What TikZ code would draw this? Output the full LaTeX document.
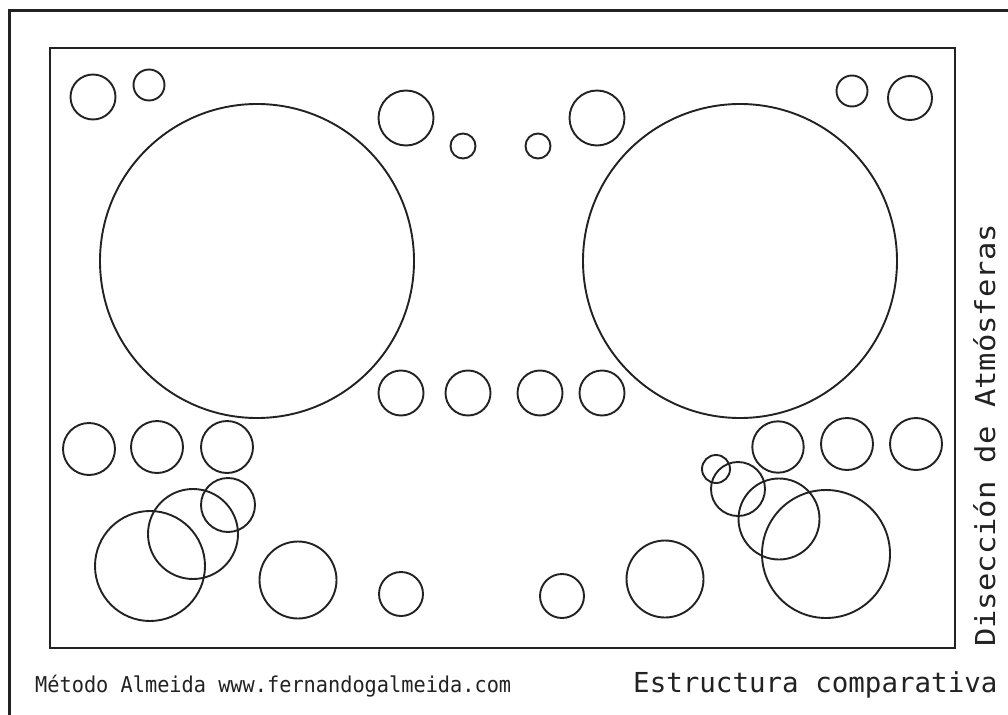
\documentclass[tikz,border=0pt]{standalone}
\usepackage{fontspec}
\usepackage{graphicx}
\newfontfamily\monofont{DejaVu Sans Mono}
\definecolor{ink}{HTML}{222222}
\begin{document}
\begin{tikzpicture}[x=1pt,y=-1pt,
  ring/.style={draw=ink,line width=1.9pt},
  frame/.style={draw=ink,line width=2.3pt},
  outerframe/.style={draw=ink,line width=3pt},
  label/.style={inner sep=0pt,text=ink}]
\useasboundingbox (0,0) rectangle (1008,714);
\fill[white] (0,0) rectangle (1008,714);
\begin{scope}
\clip (0,0) rectangle (1008,714);
\draw[outerframe] (9,11) rectangle (1020,730);
\end{scope}
\draw[frame] (50,48) rectangle (955,648);
% top corners
\draw[ring] (93,97) circle[radius=22.5pt];
\draw[ring] (149,85) circle[radius=15.5pt];
\draw[ring] (852,91) circle[radius=15.5pt];
\draw[ring] (910,98) circle[radius=22pt];
% big circles
\draw[ring] (257,261) circle[radius=157pt];
\draw[ring] (740,261) circle[radius=157pt];
% top middle
\draw[ring] (406,118) circle[radius=27.5pt];
\draw[ring] (463,146) circle[radius=12.5pt];
\draw[ring] (538,146) circle[radius=12.5pt];
\draw[ring] (597,118) circle[radius=27.5pt];
% middle row
\draw[ring] (401,393) circle[radius=22.5pt];
\draw[ring] (468,393) circle[radius=22.5pt];
\draw[ring] (540,393) circle[radius=22.5pt];
\draw[ring] (602,393) circle[radius=22.5pt];
% left bottom cluster
\draw[ring] (89,449) circle[radius=26pt];
\draw[ring] (157,447) circle[radius=26pt];
\draw[ring] (227,447) circle[radius=26pt];
\draw[ring] (228,505) circle[radius=27pt];
\draw[ring] (193,534) circle[radius=45pt];
\draw[ring] (150,566) circle[radius=55pt];
\draw[ring] (298,580) circle[radius=38.5pt];
% bottom middle
\draw[ring] (401,594) circle[radius=22pt];
\draw[ring] (562,596) circle[radius=22pt];
\draw[ring] (665,579) circle[radius=38.5pt];
% right bottom cluster
\draw[ring] (778,447) circle[radius=25.7pt];
\draw[ring] (847,444) circle[radius=26pt];
\draw[ring] (916,444) circle[radius=26pt];
\draw[ring] (716,469) circle[radius=14pt];
\draw[ring] (738,489) circle[radius=27pt];
\draw[ring] (779,519) circle[radius=40.5pt];
\draw[ring] (826,554) circle[radius=64pt];
% texts
\node[label,anchor=base west] (credit) at (35,692) {\scalebox{0.93}[1]{\fontsize{21.8}{26}\monofont Método Almeida www.fernandogalmeida.com}};
\node[label,anchor=base west] (subtitle) at (633,692) {\fontsize{27.5}{32}\monofont Estructura comparativa};
\node[label,anchor=base west,rotate=90] (title) at (995,647) {\scalebox{1.11}[1]{\fontsize{27.5}{32}\monofont Disección de Atmósferas}};
\end{tikzpicture}
\end{document}
